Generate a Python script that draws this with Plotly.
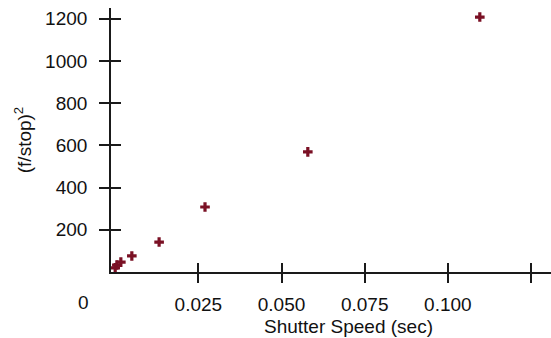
import plotly.graph_objects as go

# Data
shutter_speed = [0.0, 0.0005, 0.0017, 0.0050, 0.0132, 0.0270, 0.0579, 0.1096]
fstop_squared = [20, 33, 47, 76, 142, 308, 569, 1208]

x_tickvals = [0.025, 0.050, 0.075, 0.100, 0.125]
x_ticktext = ["0.025", "0.050", "0.075", "0.100", ""]
y_tickvals = [200, 400, 600, 800, 1000, 1200]
y_ticktext = ["200", "400", "600", "800", "1000", "1200"]

x_range = [-0.00126, 0.1310]
y_range = [0, 1251]

FONT = "Liberation Sans, Arial, sans-serif"
AX = "#1a1a1a"
FS = 19

fig = go.Figure()
fig.add_trace(go.Scatter(
    x=shutter_speed, y=fstop_squared, mode="markers",
    marker=dict(symbol="cross", size=8, color="#7a1024", line=dict(width=0)),
    showlegend=False, hoverinfo="x+y"))
# invisible trace on overlay axes (for ticks crossing the axis lines)
fig.add_trace(go.Scatter(x=[x_range[0]], y=[y_range[0]], xaxis="x2", yaxis="y2",
                         mode="markers", marker=dict(opacity=0), showlegend=False,
                         hoverinfo="skip"))

common_x = dict(range=x_range, tickvals=x_tickvals, showgrid=False, zeroline=False,
                tickwidth=1.6, tickcolor=AX, ticklen=9)
common_y = dict(range=y_range, tickvals=y_tickvals, showgrid=False, zeroline=False,
                tickwidth=1.6, tickcolor=AX, ticklen=10)

fig.update_layout(
    width=551, height=338,
    margin=dict(l=111, r=0, t=8, b=66),
    paper_bgcolor="white", plot_bgcolor="white",
    font=dict(family=FONT, size=FS, color="#111"),
    xaxis=dict(**common_x, ticktext=x_ticktext, ticks="outside",
               showline=True, linecolor=AX, linewidth=1.6,
               tickfont=dict(size=FS), ticklabelstandoff=5),
    yaxis=dict(**common_y, ticktext=y_ticktext, ticks="outside",
               showline=True, linecolor=AX, linewidth=1.6,
               tickfont=dict(size=FS), ticklabelstandoff=8,
               title=dict(text="(f/stop)<sup>2</sup>", font=dict(size=FS), standoff=8)),
    xaxis2=dict(**common_x, overlaying="x", anchor="y2", ticks="inside",
                showticklabels=False, showline=False),
    yaxis2=dict(**common_y, overlaying="y", anchor="x2", ticks="inside",
                showticklabels=False, showline=False),
    annotations=[
        dict(text="Shutter Speed (sec)", xref="paper", yref="paper",
             x=0.539, y=-0.208, xanchor="center", yanchor="middle",
             showarrow=False, font=dict(size=FS)),
        dict(text="0", xref="paper", yref="paper",
             x=-0.0614, y=-0.114, xanchor="center", yanchor="middle",
             showarrow=False, font=dict(size=FS)),
    ],
)

fig.write_html("out.html", config={"displayModeBar": False},
               post_script="document.body.style.margin='0';document.body.style.padding='0';")
